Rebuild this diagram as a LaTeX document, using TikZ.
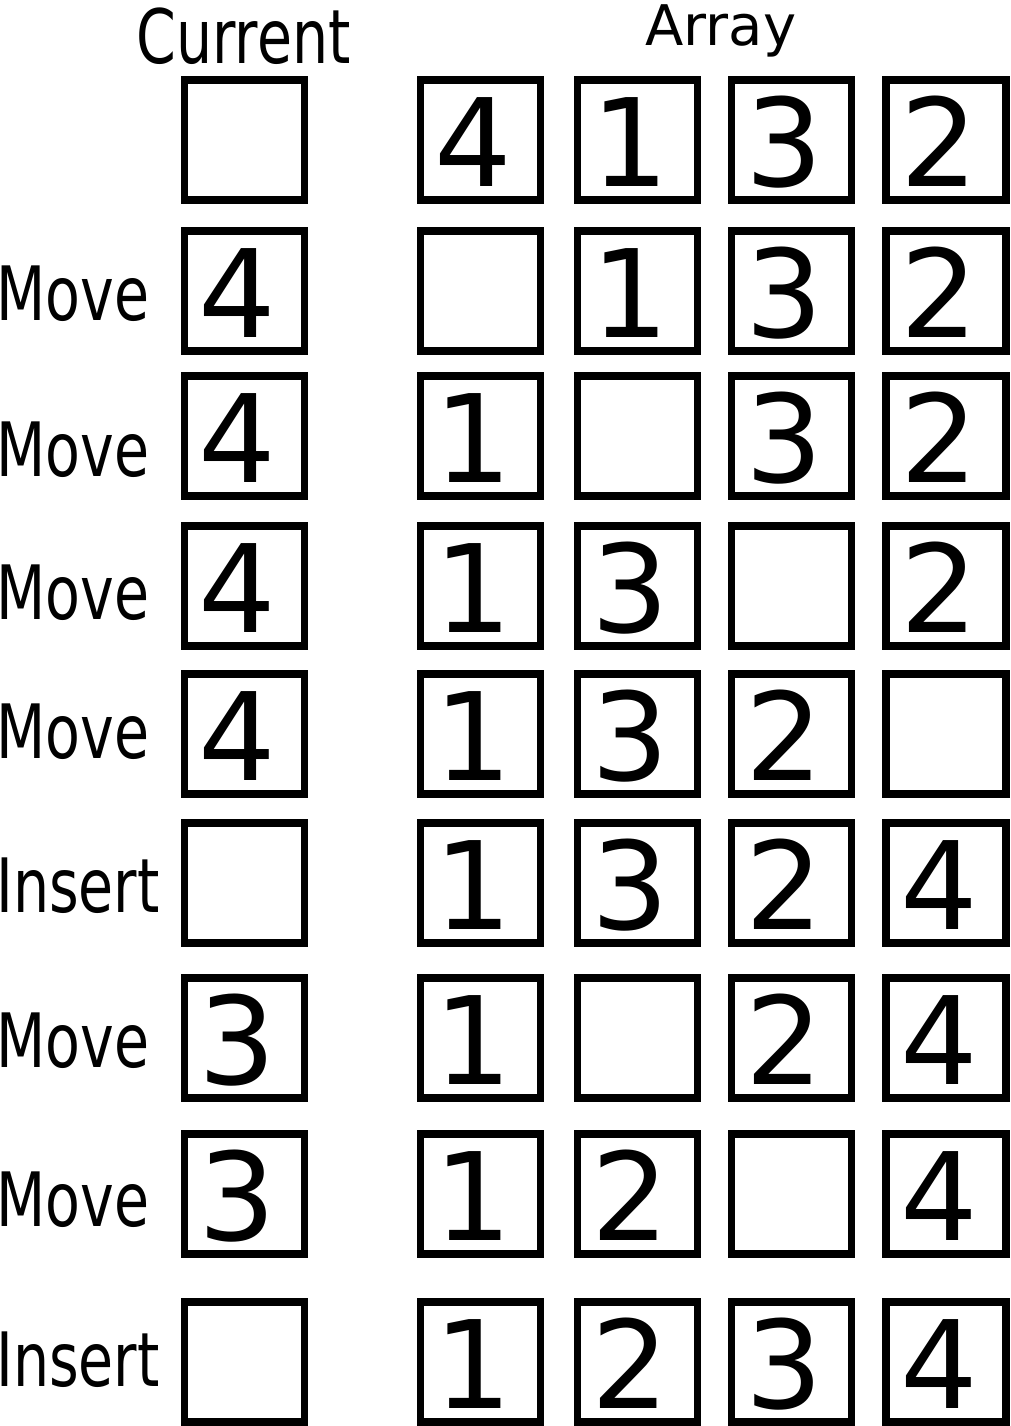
\documentclass[tikz,border=0pt]{standalone}
\usepackage{fontspec}
\setmainfont{DejaVu Sans}
\usepackage{graphicx}
\begin{document}
\begin{tikzpicture}[x=1pt,y=-1pt,
 cell/.style={draw=black,line width=7.3pt,minimum size=120pt,inner sep=0pt},
 digit/.style={anchor=base,inner sep=0pt,text depth=0pt,font=\fontsize{122}{130}\selectfont},
 lbl/.style={anchor=base west,inner sep=0pt,text depth=0pt,font=\fontsize{75}{80}\selectfont},
 head/.style={anchor=base,inner sep=0pt,font=\fontsize{75}{80}\selectfont}]
\useasboundingbox (0,0) rectangle (1011,1426);
\foreach \r/\y in {1/140,2/291,3/436,4/586,5/734,6/883,7/1038,8/1194,9/1362}{
  \node[cell] (c\r-0) at (244.5,\y) {};
  \foreach \k/\x in {1/480.5,2/637.5,3/791.5,4/946}
    \node[cell] (c\r-\k) at (\x,\y) {};
}
\foreach \r/\k/\v in {1/1/4,1/2/1,1/3/3,1/4/2,
  2/0/4,2/2/1,2/3/3,2/4/2,
  3/0/4,3/1/1,3/3/3,3/4/2,
  4/0/4,4/1/1,4/2/3,4/4/2,
  5/0/4,5/1/1,5/2/3,5/3/2,
  6/1/1,6/2/3,6/3/2,6/4/4,
  7/0/3,7/1/1,7/3/2,7/4/4,
  8/0/3,8/1/1,8/2/2,8/4/4,
  9/1/1,9/2/2,9/3/3,9/4/4}
  \node[digit] (d\r-\k) at ([xshift=-7pt,yshift=-46pt]c\r-\k.center) {\v};
\foreach \r/\b/\t in {2/320/Move,3/476/Move,4/619/Move,5/758/Move,6/912/Insert,7/1067/Move,8/1226/Move,9/1386/Insert}
  \node[lbl] (l\r) at (-4,\b) {\scalebox{0.76}[1]{\t}};
\node[head] (hcur) at (243.5,64) {\scalebox{0.76}[1]{Current}};
\node[head,font=\fontsize{56}{60}\selectfont] (harr) at (721,46) {Array};
\end{tikzpicture}
\end{document}
